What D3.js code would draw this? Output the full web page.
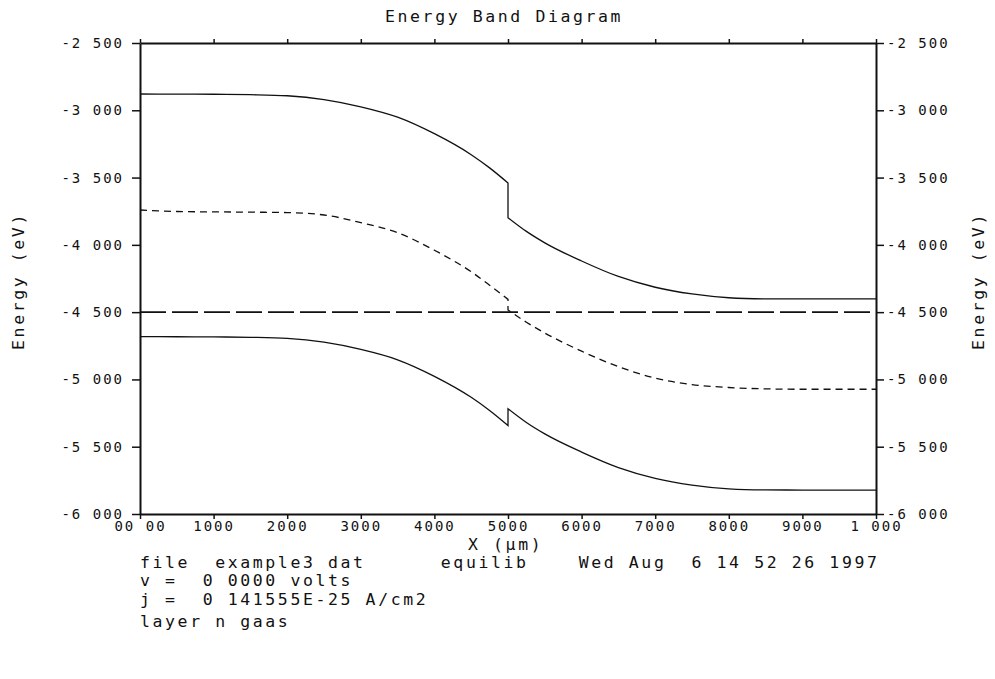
<!DOCTYPE html>
<html>
<head>
<meta charset="utf-8">
<script src="https://cdn.jsdelivr.net/npm/d3@7"></script>
<style>
  body { margin: 0; background: #fff; }
  svg { display: block; }
  text { font-family: "DejaVu Sans Mono", monospace; fill: #111; white-space: pre; }
  .tick text { font-size: 14px; letter-spacing: 2px; }
  .big { font-size: 16.5px; letter-spacing: 2.6px; }
</style>
</head>
<body>
<script>
// axis ticks and their labels as printed on the plot
var xTicks = [0, 0.1, 0.2, 0.3, 0.4, 0.5, 0.6, 0.7, 0.8, 0.9, 1.0];
var xTickLabels = ["00 00", "1000", "2000", "3000", "4000", "5000", "6000", "7000", "8000", "9000", "1 000"];
var yTicks = [-2.5, -3.0, -3.5, -4.0, -4.5, -5.0, -5.5, -6.0];
var yTickLabels = ["-2 500", "-3 000", "-3 500", "-4 000", "-4 500", "-5 000", "-5 500", "-6 000"];

// positions (left / right of the heterojunction at x = 0.5)
var xLeft  = [0, 0.05, 0.1, 0.15, 0.2, 0.25, 0.3, 0.35, 0.4, 0.45, 0.475, 0.5];
var xRight = [0.5, 0.525, 0.55, 0.6, 0.65, 0.7, 0.75, 0.8, 0.85, 0.9, 0.95, 1.0];

// conduction band
var ecLeft  = [-2.879, -2.880, -2.881, -2.884, -2.892, -2.920, -2.974, -3.051, -3.174, -3.330, -3.428, -3.540];
var ecRight = [-3.798, -3.900, -3.985, -4.120, -4.235, -4.315, -4.365, -4.393, -4.401, -4.402, -4.402, -4.402];
// intrinsic level
var eiLeft  = [-3.741, -3.752, -3.755, -3.757, -3.760, -3.778, -3.835, -3.910, -4.040, -4.200, -4.300, -4.405];
var eiRight = [-4.484, -4.575, -4.655, -4.790, -4.905, -4.990, -5.038, -5.060, -5.070, -5.073, -5.073, -5.073];
// valence band
var evLeft  = [-4.682, -4.683, -4.684, -4.687, -4.695, -4.723, -4.777, -4.854, -4.977, -5.133, -5.231, -5.343];
var evRight = [-5.218, -5.320, -5.405, -5.540, -5.655, -5.735, -5.785, -5.813, -5.821, -5.822, -5.822, -5.822];
// fermi level
var fermiX = [0, 1.0];
var fermiE = [-4.5, -4.5];

var infoLines = [
    "file  example3 dat      equilib    Wed Aug  6 14 52 26 1997",
    "v =  0 0000 volts",
    "j =  0 141555E-25 A/cm2",
    "layer n gaas"
];

var W = 995, H = 679;
var margin = {left: 140, right: 119, top: 43, bottom: 165};

var svg = d3.select("body").append("svg").attr("width", W).attr("height", H);

var x = d3.scaleLinear().domain([0, 1]).range([margin.left, W - margin.right]);
var y = d3.scaleLinear().domain([-2.5, -6.0]).range([margin.top, H - margin.bottom]);

var line = d3.line()
    .x(function (d) { return x(d[0]); })
    .y(function (d) { return y(d[1]); })
    .curve(d3.curveMonotoneX);

// join the two halves with a straight vertical step at the junction
function bandPath(xl, el, xr, er) {
    return line(d3.zip(xl, el)) + line(d3.zip(xr, er)).replace(/^M/, "L");
}

var plot = svg.append("g").attr("class", "curves").attr("fill", "none").attr("stroke", "#111");

plot.append("path")
    .attr("d", bandPath(xLeft, ecLeft, xRight, ecRight))
    .attr("stroke-width", 1.3);

plot.append("path")
    .attr("d", bandPath(xLeft, eiLeft, xRight, eiRight))
    .attr("stroke-width", 1.3)
    .attr("stroke-dasharray", "7,5");

plot.append("path")
    .attr("d", line(d3.zip(fermiX, fermiE)))
    .attr("stroke-width", 1.8)
    .attr("stroke-dasharray", "26,6");

plot.append("path")
    .attr("d", bandPath(xLeft, evLeft, xRight, evRight))
    .attr("stroke-width", 1.3);

// axes / frame
function styleAxis(g) {
    g.select(".domain").attr("stroke", "#111").attr("stroke-width", 2);
    g.selectAll(".tick line").attr("stroke", "#111").attr("stroke-width", 1.5);
    g.selectAll(".tick text").attr("fill", "#111");
}

svg.append("g")
    .attr("transform", "translate(" + margin.left + ",0)")
    .call(d3.axisLeft(y).tickValues(yTicks).tickSize(8).tickSizeOuter(0).tickPadding(10)
        .tickFormat(function (d, i) { return yTickLabels[i]; }))
    .call(styleAxis)
    .call(function (g) { g.selectAll(".tick text").attr("dx", "2"); });

svg.append("g")
    .attr("transform", "translate(" + (W - margin.right) + ",0)")
    .call(d3.axisRight(y).tickValues(yTicks).tickSize(8).tickSizeOuter(0).tickPadding(3)
        .tickFormat(function (d, i) { return yTickLabels[i]; }))
    .call(styleAxis);

svg.append("g")
    .attr("transform", "translate(0," + (H - margin.bottom) + ")")
    .call(d3.axisBottom(x).tickValues(xTicks).tickSize(5).tickSizeOuter(0).tickPadding(2)
        .tickFormat(function (d, i) { return xTickLabels[i]; }))
    .call(styleAxis);

svg.append("g")
    .attr("transform", "translate(0," + margin.top + ")")
    .call(d3.axisTop(x).tickValues(xTicks).tickSize(4).tickSizeOuter(0).tickFormat(""))
    .call(styleAxis);

// titles
svg.append("text").attr("class", "big")
    .attr("x", 385).attr("y", 22)
    .text("Energy Band Diagram");

svg.append("text").attr("class", "big")
    .attr("x", 468).attr("y", 550)
    .text("X (µm)");

svg.append("text").attr("class", "big")
    .attr("transform", "translate(24,281) rotate(-90)")
    .attr("text-anchor", "middle")
    .text("Energy (eV)");

svg.append("text").attr("class", "big")
    .attr("transform", "translate(984,281) rotate(-90)")
    .attr("text-anchor", "middle")
    .text("Energy (eV)");

var infoY = [568, 586, 605, 627];
svg.selectAll(".info")
    .data(infoLines)
    .enter().append("text")
    .attr("class", "big info")
    .attr("x", margin.left)
    .attr("y", function (d, i) { return infoY[i]; })
    .text(function (d) { return d; });
</script>
</body>
</html>
